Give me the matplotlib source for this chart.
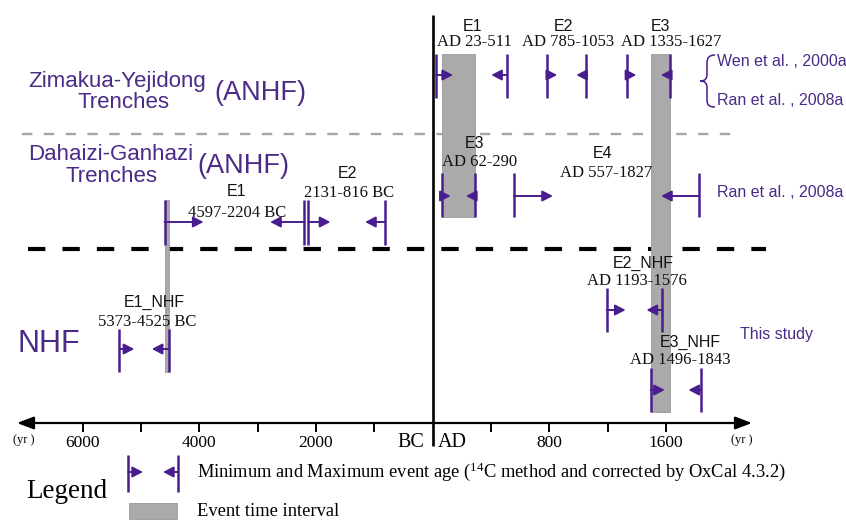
import numpy as np
import matplotlib
matplotlib.use('Agg')
import matplotlib.pyplot as plt
from matplotlib.path import Path
from matplotlib.patches import PathPatch, Rectangle
from matplotlib.ticker import NullLocator

plt.rcParams['font.family'] = ['Liberation Serif', 'DejaVu Serif']
plt.rcParams['lines.scale_dashes'] = False
plt.rcParams['mathtext.fontset'] = 'custom'
plt.rcParams['mathtext.rm'] = 'Liberation Serif'
plt.rcParams['mathtext.default'] = 'rm'

# ---------------- data (years; BC negative, AD positive) ----------------
zy_events = ['E1', 'E2', 'E3']            # Zimakua-Yejidong trenches (ANHF)
zy_min = [23, 785, 1335]
zy_max = [511, 1053, 1627]

dg_events = ['E1', 'E2', 'E3', 'E4']      # Dahaizi-Ganhazi trenches (ANHF)
dg_min = [-4597, -2131, 62, 557]
dg_max = [-2204, -816, 290, 1827]

nhf_events = ['E1_NHF', 'E2_NHF', 'E3_NHF']   # NHF, this study
nhf_min = [-5373, 1193, 1496]
nhf_max = [-4525, 1576, 1843]

shade_start = [62, 1496, -4597]           # event time intervals
shade_end = [290, 1627, -4525]

tick_years = [-6000, -5000, -4000, -3000, -2000, -1000, 400, 800, 1200, 1600]
tick_labels = ['6000', '', '4000', '', '2000', '', '', '800', '', '1600']

# ---------------- styles ----------------
PURPLE_T = '#4b2a88'
PURPLE_M = '#4a1d8e'
GRAY = '#aaaaaa'
SANS = ['Liberation Sans', 'DejaVu Sans']
SERIF = ['Liberation Serif', 'DejaVu Serif']

BC_RATE = 0.05833   # px per year before 0
AD_RATE = 0.1458    # px per year after 0
X0 = 432.7          # pixel of year 0
W, H = 846, 520


def fwd(x):
    x = np.asarray(x, dtype=float)
    return np.where(x < 0, x * BC_RATE, x * AD_RATE)


def inv(u):
    u = np.asarray(u, dtype=float)
    return np.where(u < 0, u / BC_RATE, u / AD_RATE)


fig = plt.figure(figsize=(W / 100, H / 100), dpi=100)
dx = fig.add_axes([0, 0, 1, 1], zorder=0)
dx.set_xlim(0, W)
dx.set_ylim(H, 0)
dx.axis('off')

ax = fig.add_axes([0, 0, 1, 1], zorder=1)
ax.patch.set_visible(False)
ax.set_xscale('function', functions=(fwd, inv))
ax.set_xlim(-X0 / BC_RATE, (W - X0) / AD_RATE)
ax.set_ylim(H, 0)
for s in ['left', 'right', 'top']:
    ax.spines[s].set_visible(False)
ax.spines['bottom'].set_position(('data', 423))
ax.spines['bottom'].set_visible(False)
ax.set_yticks([])
ax.set_xticks(tick_years, tick_labels)
ax.xaxis.set_minor_locator(NullLocator())
ax.tick_params(axis='x', direction='out', length=6.5, width=1.4, pad=1.8,
               labelsize=12.5, colors='black')

tx = fig.add_axes([0, 0, 1, 1], zorder=2)
tx.patch.set_visible(False)
tx.set_xlim(0, W)
tx.set_ylim(H, 0)
tx.axis('off')


def marker(axis, x, y0, y1, ya, length_px, direction):
    axis.vlines(x, y0, y1, color=PURPLE_M, lw=1.8, zorder=4)
    axis.annotate('', xy=(x, ya), xycoords='data',
                  xytext=(direction * length_px * 0.72, 0), textcoords='offset points',
                  arrowprops=dict(arrowstyle='<|-,head_length=0.62,head_width=0.32',
                                  mutation_scale=10, color=PURPLE_M, lw=1.4,
                                  shrinkA=0, shrinkB=0),
                  zorder=5)


def hdr(x, y, s):
    tx.text(x, y, s, family=SANS, fontsize=11.5, ha='center', va='baseline', color='#111111')


def rng(x, y, s):
    tx.text(x, y, s, family=SERIF, fontsize=12, ha='center', va='baseline', color='#111111')


def fmt(a, b):
    if a < 0:
        return f'{-a}-{-b} BC'
    return f'AD {a}-{b}'


# ---------------- shaded intervals ----------------
shade_rows = [(54, 217), (54, 412), (200, 372)]
for s0, s1, (y0, y1) in zip(shade_start, shade_end, shade_rows):
    ax.fill_between([s0, s1], y0, y1, facecolor=GRAY, edgecolor='#999999', lw=0.6, zorder=2)

# ---------------- separators and time axis ----------------
dx.plot([22, 734], [134, 134], color='#a6a6a6', lw=1.7, linestyle=(0, (7.5, 8.2)),
        solid_capstyle='butt')
dx.plot([28, 766], [249, 249], color='black', lw=3.0, linestyle=(0, (12.5, 12.3)),
        dash_capstyle='butt')
ax.vlines(0, 15, 446, color='black', lw=1.9, zorder=3)
dx.annotate('', xy=(17, 423), xytext=(752, 423),
            arrowprops=dict(arrowstyle='<|-|>,head_length=1.0,head_width=0.38',
                            mutation_scale=10, color='black', lw=1.6,
                            shrinkA=0, shrinkB=0))
tx.text(13, 443, '(yr )', fontsize=9, ha='left', va='baseline')
tx.text(731, 443, '(yr )', fontsize=9, ha='left', va='baseline')
tx.text(424, 447, 'BC', fontsize=14.5, ha='right', va='baseline')
tx.text(438, 447, 'AD', fontsize=14.5, ha='left', va='baseline')

# ---------------- Zimakua-Yejidong row ----------------
zy_len = [(17, 16), (10, 10), (9, 9)]
zy_hdr = [(472, 31), (563, 31), (660, 31)]
zy_rng = [(474, 46), (568, 46), (671, 46)]
for i, ev in enumerate(zy_events):
    marker(ax, zy_min[i], 54, 98, 75, zy_len[i][0], +1)
    marker(ax, zy_max[i], 54, 98, 75, zy_len[i][1], -1)
    hdr(*zy_hdr[i], ev)
    rng(*zy_rng[i], fmt(zy_min[i], zy_max[i]))

# ---------------- Dahaizi-Ganhazi row ----------------
dg_bar = [(200, 245, 222), (200, 245, 222), (173, 217, 196), (173, 217, 196)]
dg_len = [(39, 34), (22, 20), (9, 9), (39, 38)]
dg_hdr = [(237, 196), (347, 178), (475, 148), (603, 158)]
dg_rng = [(237, 217), (349, 197), (480, 166), (606, 177)]
for i, ev in enumerate(dg_events):
    y0, y1, ya = dg_bar[i]
    marker(ax, dg_min[i], y0, y1, ya, dg_len[i][0], +1)
    marker(ax, dg_max[i], y0, y1, ya, dg_len[i][1], -1)
    hdr(*dg_hdr[i], ev)
    rng(*dg_rng[i], fmt(dg_min[i], dg_max[i]))

# ---------------- NHF row ----------------
nhf_bar = [(329, 372, 349), (288, 332, 310), (368, 412, 390)]
nhf_len = [(15, 17), (19, 16), (14, 13)]
nhf_hdr = [(154, 307), (643, 268), (690, 347)]
nhf_rng = [(147, 326), (637, 285), (680, 364)]
for i, ev in enumerate(nhf_events):
    y0, y1, ya = nhf_bar[i]
    marker(ax, nhf_min[i], y0, y1, ya, nhf_len[i][0], +1)
    marker(ax, nhf_max[i], y0, y1, ya, nhf_len[i][1], -1)
    hdr(*nhf_hdr[i], ev)
    rng(*nhf_rng[i], fmt(nhf_min[i], nhf_max[i]))

# ---------------- row titles ----------------
tx.text(117, 87, 'Zimakua-Yejidong', family=SANS, fontsize=16, color=PURPLE_T, ha='center', va='baseline')
tx.text(123, 108, 'Trenches', family=SANS, fontsize=16, color=PURPLE_T, ha='center', va='baseline')
tx.text(260, 100, '(ANHF)', family=SANS, fontsize=19.5, color=PURPLE_T, ha='center', va='baseline')
tx.text(111, 160, 'Dahaizi-Ganhazi', family=SANS, fontsize=16, color=PURPLE_T, ha='center', va='baseline')
tx.text(111, 182, 'Trenches', family=SANS, fontsize=16, color=PURPLE_T, ha='center', va='baseline')
tx.text(243, 173, '(ANHF)', family=SANS, fontsize=19.5, color=PURPLE_T, ha='center', va='baseline')
tx.text(18, 352, 'NHF', family=SANS, fontsize=22, color=PURPLE_T, ha='left', va='baseline')

# ---------------- sources ----------------
tx.text(717, 66, 'Wen et al. , 2000a', family=SANS, fontsize=11.5, color=PURPLE_T, va='baseline')
tx.text(717, 105, 'Ran et al. , 2008a', family=SANS, fontsize=11.5, color=PURPLE_T, va='baseline')
tx.text(717, 197, 'Ran et al. , 2008a', family=SANS, fontsize=11.5, color=PURPLE_T, va='baseline')
tx.text(740, 339, 'This study', family=SANS, fontsize=11.5, color=PURPLE_T, va='baseline')

verts = [(715, 55), (709, 55), (707, 58), (707, 63), (707, 74),
         (707, 79), (705, 81), (700, 81),
         (705, 81), (707, 83), (707, 88), (707, 100),
         (707, 105), (709, 107), (715, 107)]
codes = [Path.MOVETO, Path.CURVE4, Path.CURVE4, Path.CURVE4, Path.LINETO,
         Path.CURVE4, Path.CURVE4, Path.CURVE4,
         Path.CURVE4, Path.CURVE4, Path.CURVE4, Path.LINETO,
         Path.CURVE4, Path.CURVE4, Path.CURVE4]
tx.add_patch(PathPatch(Path(verts, codes), facecolor='none', edgecolor=PURPLE_M, lw=1.1))

# ---------------- legend ----------------
tx.text(26, 498, 'Legend', fontsize=19.5, ha='left', va='baseline')
marker(tx, 128, 455, 492, 472, 15, +1)
marker(tx, 178, 455, 492, 472, 15, -1)
tx.text(197, 477, r'Minimum and Maximum event age ($^{14}$C method and corrected by OxCal 4.3.2)',
        fontsize=13.3, ha='left', va='baseline')
tx.add_patch(Rectangle((129, 503), 48, 16, facecolor=GRAY, edgecolor='#999999', lw=0.6))
tx.text(197, 516, 'Event time interval', fontsize=13.3, ha='left', va='baseline')

fig.savefig('out.png', dpi=100)
